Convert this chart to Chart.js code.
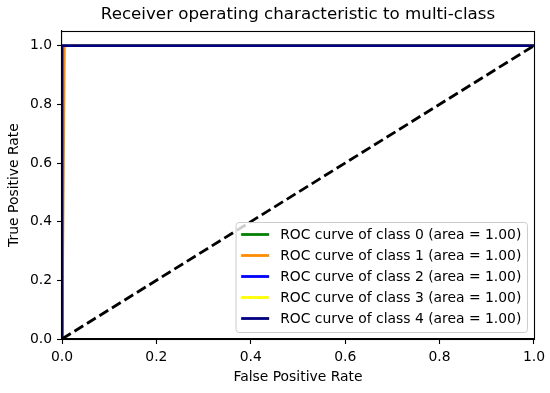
<!DOCTYPE html>
<html>
<head>
<meta charset="utf-8">
<script src="https://cdn.jsdelivr.net/npm/chart.js@4.4.1/dist/chart.umd.min.js"></script>
<style>
  body { margin: 0; background: #fff; }
  canvas { display: block; }
</style>
</head>
<body>
<canvas id="roc" width="550" height="393"></canvas>
<script>
// ROC points for each class (false positive rate / true positive rate)
var classNames = ["ROC curve of class 0", "ROC curve of class 1", "ROC curve of class 2",
                  "ROC curve of class 3", "ROC curve of class 4"];
var classAreas = [1.00, 1.00, 1.00, 1.00, 1.00];
var classColors = ["green", "darkorange", "blue", "yellow", "navy"];

var fpr0 = [0, 0, 1],     tpr0 = [0, 1, 1];
var fpr1 = [0, 0.005, 1], tpr1 = [0, 1, 1];
var fpr2 = [0, 0, 1],     tpr2 = [0, 1, 1];
var fpr3 = [0, 0, 1],     tpr3 = [0, 1, 1];
var fpr4 = [0, 0, 1],     tpr4 = [0, 1, 1];
var chanceX = [0, 1], chanceY = [0, 1];

var xTicks = [0, 0.2, 0.4, 0.6, 0.8, 1.0];
var yTicks = [0, 0.2, 0.4, 0.6, 0.8, 1.0];

var fprs = [fpr0, fpr1, fpr2, fpr3, fpr4];
var tprs = [tpr0, tpr1, tpr2, tpr3, tpr4];

function pts(xs, ys) {
  var out = [];
  for (var i in xs) out.push({x: xs[i], y: ys[i]});
  return out;
}

var datasets = [];
for (var c = 0; c < classNames.length; c++) {
  datasets.push({
    label: classNames[c] + " (area = " + classAreas[c].toFixed(2) + ")",
    data: pts(fprs[c], tprs[c]),
    borderColor: classColors[c],
    backgroundColor: classColors[c],
    borderWidth: 2.8,
    pointRadius: 0,
    showLine: true,
    fill: false,
    order: classNames.length - c   // later classes drawn on top, like matplotlib
  });
}
datasets.push({
  label: "chance",
  data: pts(chanceX, chanceY),
  borderColor: "#000",
  borderWidth: 2.8,
  borderDash: [10.3, 4.4],
  pointRadius: 0,
  showLine: true,
  fill: false,
  order: 0,
  skipLegend: true
});

var FONT = "'DejaVu Sans', sans-serif";

// frame on all four sides + matplotlib-ish legend in lower right
var frameAndLegend = {
  id: "frameAndLegend",
  afterDatasetsDraw: function(chart) {
    var ctx = chart.ctx, a = chart.chartArea;
    ctx.save();
    ctx.strokeStyle = "#000";
    ctx.lineWidth = 1.1;
    ctx.strokeRect(Math.round(a.left) - 0.5, Math.round(a.top) + 0.5,
                   Math.round(a.right - a.left) + 1, Math.round(a.bottom - a.top));

    ctx.font = "13.9px " + FONT;
    var items = chart.data.datasets.filter(function(d) { return !d.skipLegend; });
    var textW = 0;
    items.forEach(function(d) { textW = Math.max(textW, ctx.measureText(d.label).width); });
    var rowH = 21, lineLen = 28, pad = 5.6, gap = 11;
    var w = pad + lineLen + gap + textW + pad;
    var h = rowH * items.length + 5;
    var x0 = a.right - 7 - w, y0 = a.bottom - 7 - h;

    ctx.fillStyle = "rgba(255,255,255,0.8)";
    ctx.strokeStyle = "#cccccc";
    ctx.lineWidth = 1;
    ctx.beginPath();
    ctx.roundRect(x0 + 0.5, y0 + 0.5, w, h, 3);
    ctx.fill();
    ctx.stroke();

    ctx.textBaseline = "middle";
    items.forEach(function(d, i) {
      var cy = y0 + 12.5 + i * rowH;
      ctx.strokeStyle = d.borderColor;
      ctx.lineWidth = 2.8;
      ctx.setLineDash([]);
      ctx.beginPath();
      ctx.moveTo(x0 + pad, cy);
      ctx.lineTo(x0 + pad + lineLen, cy);
      ctx.stroke();
      ctx.fillStyle = "#000";
      ctx.fillText(d.label, x0 + pad + lineLen + gap, cy + 1);
    });
    ctx.restore();
  }
};

var ctx = document.getElementById("roc");
var rocChart = new Chart(ctx, {
  type: "scatter",
  data: { datasets: datasets },
  options: {
    responsive: false,
    animation: false,
    layout: { padding: { left: 0, right: 15, top: 0, bottom: 0 } },
    plugins: {
      legend: { display: false },
      tooltip: { enabled: false },
      title: {
        display: true,
        fullSize: false,
        text: "Receiver operating characteristic to multi-class",
        color: "#000",
        font: { family: FONT, size: 16.7, weight: "normal", lineHeight: 1.2 },
        padding: { top: 5, bottom: 6 }
      }
    },
    scales: {
      x: {
        type: "linear",
        min: 0,
        max: 1,
        afterBuildTicks: function(s) { s.ticks = xTicks.map(function(v) { return {value: v}; }); },
        afterFit: function(s) { s.height = 54; },
        ticks: {
          color: "#000",
          padding: 5,
          maxRotation: 0,
          font: { family: FONT, size: 13.9 },
          callback: function(v) { return Number(v).toFixed(1); }
        },
        grid: { drawOnChartArea: false, drawTicks: true, tickLength: 5, tickColor: "#000", tickWidth: 1.1 },
        border: { display: true, color: "#000", width: 1.1 },
        title: {
          display: true,
          text: "False Positive Rate",
          color: "#000",
          font: { family: FONT, size: 13.9 },
          padding: { top: 7.7, bottom: 7.7 }
        }
      },
      y: {
        type: "linear",
        min: 0,
        max: 1.05,
        afterBuildTicks: function(s) { s.ticks = yTicks.map(function(v) { return {value: v}; }); },
        afterFit: function(s) { s.width = 62; },
        ticks: {
          color: "#000",
          padding: 5,
          font: { family: FONT, size: 13.9 },
          callback: function(v) { return Number(v).toFixed(1); }
        },
        grid: { drawOnChartArea: false, drawTicks: true, tickLength: 5, tickColor: "#000", tickWidth: 1.1 },
        border: { display: true, color: "#000", width: 1.1 },
        title: {
          display: true,
          text: "True Positive Rate",
          color: "#000",
          font: { family: FONT, size: 13.9 },
          padding: { top: 5.7, bottom: 5.7 }
        }
      }
    }
  },
  plugins: [frameAndLegend]
});
</script>
</body>
</html>
